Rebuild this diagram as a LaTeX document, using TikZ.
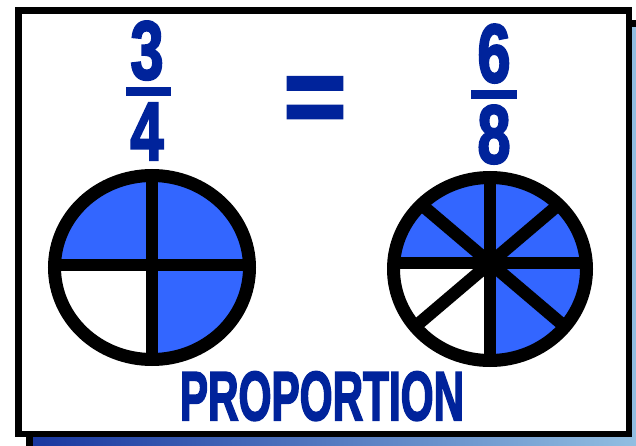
\documentclass[tikz,border=0pt]{standalone}
\usepackage{fontspec}
\setmainfont{Liberation Sans}
\newfontface\heavyface{Liberation Sans Bold}[FakeBold=3]
\usepackage{graphicx}
\usetikzlibrary{positioning}
\usepackage{xcolor}
\definecolor{inkblue}{RGB}{0,35,155}
\definecolor{pieblue}{RGB}{51,102,255}
\definecolor{shadowdark}{RGB}{25,55,160}
\definecolor{shadowlight}{RGB}{145,190,225}
\newcommand{\narrowtext}[2][0.72]{\scalebox{#1}[1]{#2}}

\begin{document}
\begin{tikzpicture}[
    x=0.75pt, y=-0.75pt,
    numeral/.style={font=\heavyface\fontsize{62}{62}\selectfont, text=inkblue, inner sep=0pt, anchor=base},
    word/.style={font=\heavyface\fontsize{52}{52}\selectfont, text=inkblue, inner sep=0pt, anchor=base},
    fracbar/.style={fill=inkblue},
    spoke/.style={line width=9.4pt},
    rim/.style={draw=black, line width=9.75pt}
]
    \useasboundingbox (0,0) rectangle (636,446);
    \fill[black] (26,20) rectangle (636,446);
    \shade[left color=shadowdark, right color=shadowlight] (33,27) rectangle (636,446);
    \fill[black] (15,7) rectangle (632,437);
    \fill[white] (22,14) rectangle (626,431);

    \node[numeral] (three) at (147,79) {\narrowtext{3}};
    \node[numeral] (four) at (147,160) {\narrowtext{4}};
    \fill[fracbar] (126,87) rectangle (171,96);
    \node[numeral] (six) at (494,82) {\narrowtext{6}};
    \node[numeral] (eight) at (494,163) {\narrowtext{8}};
    \fill[fracbar] (471,90) rectangle (517,99);
    \node[numeral, font=\heavyface\fontsize{80}{80}\selectfont] (equals) at (315,133) {=};

    \begin{scope}
        \clip (152,267.5) ellipse [x radius=97.5, y radius=92];
        \fill[pieblue] (40,160) rectangle (270,380);
        \fill[white] (40,265) rectangle (152,380);
        \draw[spoke] (152,160) -- (152,380);
        \draw[spoke] (40,265) -- (270,265);
    \end{scope}
    \draw[rim] (152,267.5) ellipse [x radius=97.5, y radius=92];

    \begin{scope}
        \clip (490,269) ellipse [x radius=96.5, y radius=91.5];
        \fill[pieblue] (380,160) rectangle (600,380);
        \fill[white] (380,263) rectangle (490,380);
        \draw[spoke] (490,160) -- (490,380);
        \draw[spoke] (380,263) -- (600,263);
        \draw[spoke] (370,161) -- (610,365);
        \draw[spoke] (370,365) -- (610,161);
    \end{scope}
    \draw[rim] (490,269) ellipse [x radius=96.5, y radius=91.5];

    \node[word] (title) at (322,420) {\narrowtext[0.61]{PROPORTION}};
\end{tikzpicture}
\end{document}
